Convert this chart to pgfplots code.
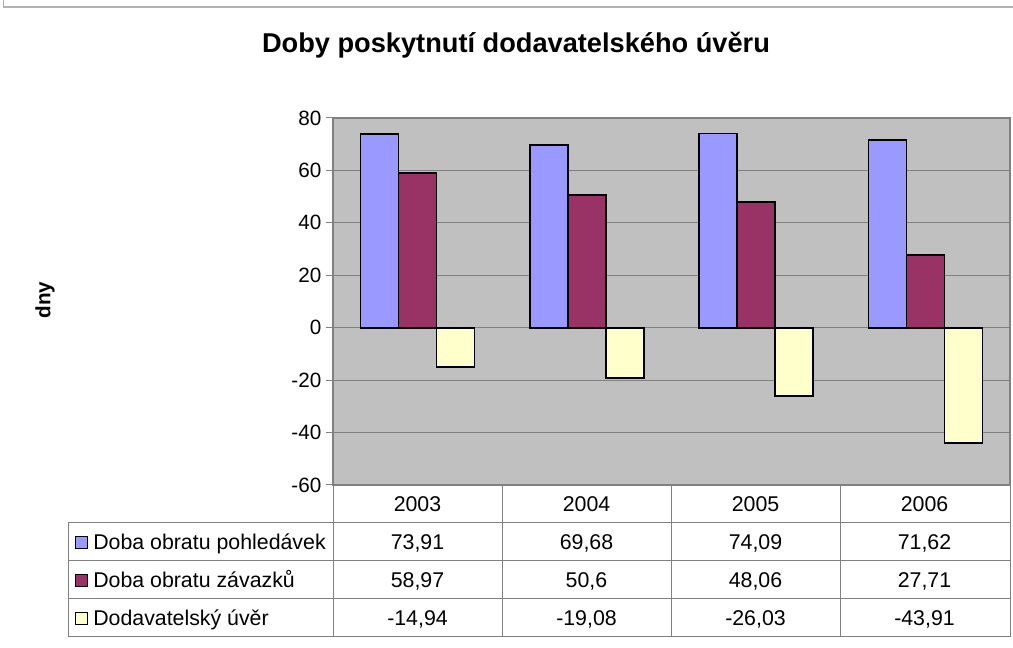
\documentclass[border=0pt]{standalone}
\usepackage{pgfplots}
\pgfplotsset{compat=1.18}
\usepackage{fontspec}
\setmainfont{Liberation Sans}
\definecolor{cblue}{HTML}{9999FF}
\definecolor{cmaroon}{HTML}{993366}
\definecolor{cyellow}{HTML}{FFFFCC}
\definecolor{plotbg}{HTML}{C0C0C0}
\definecolor{gridc}{HTML}{808080}
\begin{document}
\begin{tikzpicture}[x=0.75pt,y=0.75pt]
\useasboundingbox (0,0) rectangle (1013,648);
\draw[gray!60, line width=1.2pt] (3.5,648) -- (3.5,641) -- (1013,641);
\node[font=\fontsize{20.4}{24}\selectfont\bfseries] at (516,603) {Doby poskytnutí dodavatelského úvěru};
\node[font=\fontsize{15.5}{18}\selectfont\bfseries, rotate=90] at (45,348) {dny};
\begin{axis}[
  at={(249.75pt,122.25pt)}, anchor=south west,
  width=507.75pt, height=275.25pt, scale only axis,
  xmin=-0.5, xmax=3.5, ymin=-60, ymax=80,
  ytick={-60,-40,...,80},
  xtick=\empty,
  ytick pos=left,
  tick align=outside,
  major tick length=5.25pt,
  tick style={gridc, line width=0.75pt},
  ymajorgrids,
  major grid style={gridc, line width=0.75pt},
  axis line style={gridc, line width=1pt},
  axis background/.style={fill=plotbg},
  tick label style={font=\fontsize{15.5}{18}\selectfont},
  /pgf/number format/assume math mode=true,
  clip=false,
]
\addplot[ybar, bar width=28.5pt, bar shift=-28.5pt, fill=cblue, draw=black, line width=1.2pt] coordinates {(0,73.91) (1,69.68) (2,74.09) (3,71.62)};
\addplot[ybar, bar width=28.5pt, bar shift=0pt, fill=cmaroon, draw=black, line width=1.2pt] coordinates {(0,58.97) (1,50.6) (2,48.06) (3,27.71)};
\addplot[ybar, bar width=28.5pt, bar shift=28.5pt, fill=cyellow, draw=black, line width=1.2pt] coordinates {(0,-14.94) (1,-19.08) (2,-26.03) (3,-43.91)};
\end{axis}
% data table
\draw[gridc, line width=0.75pt]
  (68,125) -- (1010,125)
  (68,87) -- (1010,87)
  (68,49) -- (1010,49)
  (68,11) -- (1010,11)
  (68,125) -- (68,11)
  (333,163) -- (333,11)
  (502,163) -- (502,11)
  (671,163) -- (671,11)
  (840,163) -- (840,11)
  (1010,163) -- (1010,11);
\begin{scope}[every node/.style={font=\fontsize{16}{19}\selectfont, inner sep=0pt, anchor=base}]
\node at (417.5,136.5) {2003};
\node at (586.5,136.5) {2004};
\node at (755.5,136.5) {2005};
\node at (924.5,136.5) {2006};
\draw[black, line width=0.5pt, fill=cblue] (75,100) rectangle (87,112);
\draw[black, line width=0.5pt, fill=cmaroon] (75,62) rectangle (87,74);
\draw[black, line width=0.5pt, fill=cyellow] (75,24) rectangle (87,36);
\node[anchor=base west] at (93,98.5) {Doba obratu pohledávek};
\node[anchor=base west] at (93,60.5) {Doba obratu závazků};
\node[anchor=base west] at (93,22.5) {Dodavatelský úvěr};
\node at (417.5,98.5) {73,91};
\node at (586.5,98.5) {69,68};
\node at (755.5,98.5) {74,09};
\node at (924.5,98.5) {71,62};
\node at (417.5,60.5) {58,97};
\node at (586.5,60.5) {50,6};
\node at (755.5,60.5) {48,06};
\node at (924.5,60.5) {27,71};
\node at (417.5,22.5) {-14,94};
\node at (586.5,22.5) {-19,08};
\node at (755.5,22.5) {-26,03};
\node at (924.5,22.5) {-43,91};
\end{scope}
\end{tikzpicture}
\end{document}
